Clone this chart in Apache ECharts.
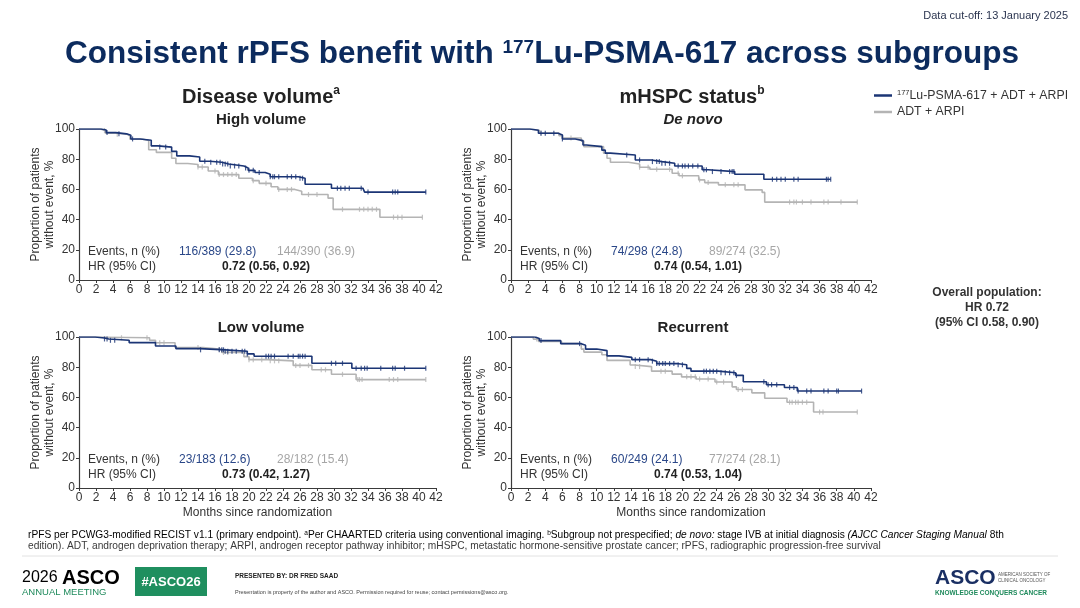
<!DOCTYPE html>
<html>
<head>
<meta charset="utf-8">
<script src="https://cdn.jsdelivr.net/npm/echarts@6/dist/echarts.min.js"></script>
<style>
  html, body { margin: 0; padding: 0; background: #fff; }
  #slide { width: 1080px; height: 608px; }
</style>
</head>
<body>
<div id="slide"></div>
<script>
// KM step points [month, % without event]
var hvLu = [[0,100],[2.6,99.3],[3.2,97.6],[4.3,96.8],[5.6,95.8],[6.1,93.4],[7.2,92.6],[8.5,88.8],[9.3,88],[10.9,85.2],[11.5,82.2],[13.0,81.5],[14.2,78.6],[15.4,78],[16.8,76.8],[17.6,75.5],[19.4,74.2],[19.9,72.6],[20.7,71.2],[21.9,70],[22.5,68.4],[25.8,67.4],[26.6,63.4],[29.7,60.8],[33.4,59.8],[33.6,58.2],[40.8,58.2]];
var hvCtl = [[0,100],[2.5,99],[3.1,97.2],[4.5,96.6],[5.6,95.4],[6.0,93.2],[7.5,92.4],[8.2,86.3],[9.1,84.5],[10.9,80.6],[11.4,77.2],[12.8,76.5],[14.0,74.8],[15.2,72.2],[16.4,69.8],[18.8,67.4],[20.4,65.8],[21.2,64],[22.6,61.8],[23.4,60],[25.4,58.8],[26.2,56.6],[29.3,54.2],[29.9,46.8],[35.4,41.6],[40.4,41.6]];
var dnLu = [[0,100],[2.2,99.2],[3.2,97.2],[5.5,96],[6.0,93.4],[7.5,92.3],[8.4,89.4],[8.8,88.3],[10.6,86],[11.0,84],[11.6,82.8],[14.5,79.5],[16.4,78.4],[17.6,77.3],[19.1,75.5],[22.3,73],[23.0,71.8],[26.1,70],[29.5,66.7],[37.3,66.7]];
var dnCtl = [[0,100],[2.2,99.2],[3.3,97.4],[5.6,95.6],[6.0,94],[8.2,92],[8.5,88.3],[10.8,84],[11.2,80.6],[11.6,78],[13.7,76.8],[15.0,74.7],[16.2,73.3],[18.8,70.7],[19.6,69],[21.9,66.3],[22.6,64.5],[24.2,63],[27.3,59.7],[29.3,58],[29.6,51.6],[40.4,51.6]];
var lvLu = [[0,100],[1.9,99.3],[3.0,98.7],[3.5,97.8],[5.9,96.3],[9.0,94],[11.4,92.3],[14.2,91.5],[17.2,90.6],[19.8,88.8],[20.6,87.3],[27.4,82.6],[32.1,79.3],[40.8,79.3]];
var lvCtl = [[0,100],[2.0,99.5],[8.3,97.8],[9.0,96.2],[11.3,93],[14.6,91.8],[16.8,89.8],[19.4,87],[20.0,85],[22.2,84.2],[25.2,81.2],[27.4,78.3],[29.7,75.3],[32.6,71.8],[40.8,71.8]];
var rcLu = [[0,100],[2.8,99],[3.3,97.6],[5.8,95.6],[8.2,94.6],[8.7,92],[10.0,91],[11.2,87.5],[12.6,86.5],[14.1,85],[16.3,84],[17.0,82.4],[19.3,81.6],[20.5,79.2],[21.0,77.4],[24.2,76.3],[26.2,74.6],[27.1,70.4],[29.8,68.4],[31.9,66.6],[33.4,64.2],[40.9,64.2]];
var rcCtl = [[0,100],[2.6,98.6],[3.2,97],[5.9,95.6],[8.2,92],[8.5,90],[10.6,88.2],[11.2,84.5],[13.9,81.5],[14.4,80.4],[16.4,77.4],[18.8,75.4],[19.9,73.6],[21.6,72.2],[23.8,70.2],[25.8,67],[26.3,65.2],[28.1,63],[29.6,59.4],[32.2,56.8],[35.3,50.3],[40.4,50.3]];

// censor tick times (months)
var hvLuCens = [3.3,4.7,6.3,9.5,10.2,14.8,15.5,16.2,16.6,16.9,17.2,17.5,17.8,18.3,18.8,19.6,20,20.5,21.2,22.5,22.8,23,23.5,24.5,25,25.5,26,26.3,30.4,30.8,31.3,31.8,33.2,34,36.9,37.2,37.5,40.8];
var hvCtlCens = [3,4.5,14,14.5,16,16.5,17,17.5,18,18.5,20.5,22,23.5,24.5,25,27,28,31,33,33.5,34,34.5,35,37,37.5,38,40.4];
var dnLuCens = [3.5,4,5,6,13.5,15,16.5,17,17.3,17.6,18,18.5,19.5,20,20.3,20.7,21.2,21.8,22.5,22.8,23.5,24.5,25.5,25.8,26,30.5,31,31.5,32,33,33.5,36.8,37,37.3];
var dnCtlCens = [3.5,7,15,16,17,18.5,19.5,20,22,23,25,26,26.5,32.5,33,33.3,34,35,36.5,37,38.5,40.4];
var lvLuCens = [3,3.3,3.7,4.2,14.3,16.5,16.8,17,17.2,17.5,18,18.5,19.2,19.5,19.8,22,22.3,22.6,23,24.6,25.2,25.8,26,26.3,26.6,29.7,30.2,31,32.6,33.2,33.6,33.9,35.5,36.9,37.2,38.3,40.8];
var lvCtlCens = [5,8,9,9.5,10,14,16.5,17,17.5,20,20.5,21.5,22.5,23,23.5,25.5,26,27,28.5,29,31,32.8,33,33.3,36.5,37,37.5,40.8];
var rcLuCens = [3.5,8,14.5,15,16,16.5,17,17.3,17.7,18,18.5,19,19.5,20,22.5,22.8,23.2,23.6,24,24.5,25,25.5,26,26.3,29.5,30,30.4,31,32.5,33,33.5,34.5,35,36.5,37,38,38.2,40.9];
var rcCtlCens = [3,14.5,15,17.5,18,20.5,21,21.5,22,23,24,24.8,26.5,27,32.5,32.8,33.2,33.5,34,34.5,36,36.4,40.4];

// events / HR text per panel
var luEvents = ['116/389 (29.8)', '74/298 (24.8)', '23/183 (12.6)', '60/249 (24.1)'];
var ctlEvents = ['144/390 (36.9)', '89/274 (32.5)', '28/182 (15.4)', '77/274 (28.1)'];
var hrText = ['0.72 (0.56, 0.92)', '0.74 (0.54, 1.01)', '0.73 (0.42, 1.27)', '0.74 (0.53, 1.04)'];
var subTitles = ['High volume', 'De novo', 'Low volume', 'Recurrent'];

var LU_NAME = '177Lu-PSMA-617 + ADT + ARPI';
var CTL_NAME = 'ADT + ARPI';
var BLUE = '#1b3575';
var GRAY = '#b4b4b4';
var FONT = '"Liberation Sans", Arial, sans-serif';

var slide = echarts.init(document.getElementById('slide'));

// grid boxes (pixel)
var boxes = [
    { left: 79, top: 129, width: 357, height: 151 },
    { left: 511, top: 129, width: 360, height: 151 },
    { left: 79, top: 337, width: 357, height: 151 },
    { left: 511, top: 337, width: 360, height: 151 }
];
var curves = [[hvLu, hvCtl, hvLuCens, hvCtlCens], [dnLu, dnCtl, dnLuCens, dnCtlCens],
              [lvLu, lvCtl, lvLuCens, lvCtlCens], [rcLu, rcCtl, rcLuCens, rcCtlCens]];

// value of a step curve at time t
function survAt(curve, t) {
    var s = curve[0][1];
    for (var i = 0; i < curve.length; i++) {
        if (curve[i][0] <= t) s = curve[i][1];
    }
    return s;
}

var grids = [], xAxes = [], yAxes = [], series = [], graphics = [];
var axisColor = '#3a3a3a';

boxes.forEach(function (b, i) {
    grids.push({ left: b.left, top: b.top, width: b.width, height: b.height, containLabel: false });
    xAxes.push({
        type: 'value', gridIndex: i, min: 0, max: 42, interval: 2,
        axisLine: { show: true, lineStyle: { color: axisColor, width: 1.2 } },
        axisTick: { show: true, length: 3, lineStyle: { color: axisColor } },
        axisLabel: { color: '#333', fontSize: 12, fontFamily: FONT, margin: 4 },
        splitLine: { show: false },
        name: i >= 2 ? 'Months since randomization' : '',
        nameLocation: 'middle', nameGap: 19, nameMoveOverlap: false,
        nameTextStyle: { color: '#333', fontSize: 12, fontFamily: FONT }
    });
    yAxes.push({
        type: 'value', gridIndex: i, min: 0, max: 100, interval: 20,
        axisLine: { show: true, lineStyle: { color: axisColor, width: 1.2 } },
        axisTick: { show: true, length: 3, lineStyle: { color: axisColor } },
        axisLabel: { color: '#333', fontSize: 12, fontFamily: FONT, margin: 4 },
        splitLine: { show: false },
        name: 'Proportion of patients\nwithout event, %',
        nameLocation: 'middle', nameRotate: 90, nameGap: 22, nameMoveOverlap: false,
        nameTextStyle: { color: '#333', fontSize: 12, fontFamily: FONT, lineHeight: 14 }
    });

    var c = curves[i];
    series.push({
        name: CTL_NAME, type: 'line', step: 'end', xAxisIndex: i, yAxisIndex: i,
        data: c[1], showSymbol: false, lineStyle: { color: GRAY, width: 1.6 },
        itemStyle: { color: GRAY }, z: 2, silent: true
    });
    series.push({
        name: LU_NAME, type: 'line', step: 'end', xAxisIndex: i, yAxisIndex: i,
        data: c[0], showSymbol: false, lineStyle: { color: BLUE, width: 1.6 },
        itemStyle: { color: BLUE }, z: 4, silent: true
    });
    series.push({
        type: 'scatter', xAxisIndex: i, yAxisIndex: i, symbol: 'rect', symbolSize: [1.2, 5],
        data: c[3].map(function (t) { return [t, survAt(c[1], t)]; }),
        itemStyle: { color: GRAY }, z: 3, silent: true
    });
    series.push({
        type: 'scatter', xAxisIndex: i, yAxisIndex: i, symbol: 'rect', symbolSize: [1.2, 5],
        data: c[2].map(function (t) { return [t, survAt(c[0], t)]; }),
        itemStyle: { color: BLUE }, z: 5, silent: true
    });

    // panel texts
    var evY = b.top + 123, hrY = b.top + 138;
    var txt = function (x, y, s, fill, weight) {
        graphics.push({ type: 'text', x: x, y: y, style: {
            text: s, fill: fill, font: (weight || 'normal') + ' 12px ' + FONT,
            textAlign: 'left', textVerticalAlign: 'middle' } });
    };
    txt(b.left + 9, evY, 'Events, n (%)', '#333');
    txt(b.left + 9, hrY, 'HR (95% CI)', '#333');
    txt(b.left + 100, evY, luEvents[i], '#2a4788');
    txt(b.left + 198, evY, ctlEvents[i], '#a6a6a6');
    txt(b.left + 143, hrY, hrText[i], '#222', 'bold');

    graphics.push({ type: 'text', x: b.left + 182, y: b.top - 9, style: {
        text: subTitles[i], fill: '#222',
        font: (i === 1 ? 'italic ' : '') + 'bold 15px ' + FONT,
        textAlign: 'center', textVerticalAlign: 'middle' } });
});

// section headers with superscripts
function supTitle(x, y, main, sup) {
    graphics.push({ type: 'text', x: x, y: y, style: {
        text: '{m|' + main + '}{s|' + sup + '}', textAlign: 'center', textVerticalAlign: 'middle',
        rich: {
            m: { fontSize: 20, fontWeight: 'bold', fontFamily: FONT, fill: '#222', color: '#222', lineHeight: 24 },
            s: { fontSize: 12, fontWeight: 'bold', fontFamily: FONT, fill: '#222', color: '#222', verticalAlign: 'top', lineHeight: 24, padding: [0, 0, 8, 0] }
        } } });
}
supTitle(261, 97, 'Disease volume', 'a');
supTitle(692, 97, 'mHSPC status', 'b');

// slide title
graphics.push({ type: 'text', x: 542, y: 54, style: {
    text: '{m|Consistent rPFS benefit with }{s|177}{m|Lu-PSMA-617 across subgroups}',
    textAlign: 'center', textVerticalAlign: 'middle',
    rich: {
        m: { fontSize: 31.5, fontWeight: 'bold', fontFamily: FONT, color: '#0c2b5e', fill: '#0c2b5e', lineHeight: 38 },
        s: { fontSize: 19, fontWeight: 'bold', fontFamily: FONT, color: '#0c2b5e', fill: '#0c2b5e', lineHeight: 38, padding: [0, 0, 13, 0] }
    } } });
graphics.push({ type: 'text', x: 1068, y: 16, style: {
    text: 'Data cut-off: 13 January 2025', fill: '#2b3550', font: '11px ' + FONT,
    textAlign: 'right', textVerticalAlign: 'middle' } });

// overall population box
graphics.push({ type: 'text', x: 987, y: 308, style: {
    text: 'Overall population:\nHR 0.72\n(95% CI 0.58, 0.90)', fill: '#333',
    font: 'bold 12px ' + FONT, lineHeight: 15, textAlign: 'center', textVerticalAlign: 'middle' } });

// footnotes
graphics.push({ type: 'text', x: 28, y: 535, style: {
    text: '{n|rPFS per PCWG3-modified RECIST v1.1 (primary endpoint). }{s|a}{n|Per CHAARTED criteria using conventional imaging. }{s|b}{n|Subgroup not prespecified; }{i|de novo:}{n| stage IVB at initial diagnosis }{i|(AJCC Cancer Staging Manual}{n| 8th}',
    textVerticalAlign: 'middle',
    rich: {
        n: { fontSize: 10.2, fontFamily: FONT, color: '#3a3a3a', lineHeight: 12 },
        i: { fontSize: 10.2, fontFamily: FONT, fontStyle: 'italic', color: '#3a3a3a', lineHeight: 12 },
        s: { fontSize: 6.5, fontFamily: FONT, color: '#3a3a3a', lineHeight: 12, padding: [0, 0, 4, 0] }
    } } });
graphics.push({ type: 'text', x: 28, y: 546, style: {
    text: 'edition). ADT, androgen deprivation therapy; ARPI, androgen receptor pathway inhibitor; mHSPC, metastatic hormone-sensitive prostate cancer; rPFS, radiographic progression-free survival',
    fill: '#3a3a3a', font: '10.2px ' + FONT, textVerticalAlign: 'middle' } });
graphics.push({ type: 'line', shape: { x1: 22, y1: 556, x2: 1058, y2: 556 },
    style: { stroke: '#e2e2e2', lineWidth: 1 } });

// footer
graphics.push({ type: 'text', x: 22, y: 578, style: {
    text: '{y|2026 }{a|ASCO}', textVerticalAlign: 'middle',
    rich: {
        y: { fontSize: 16, fontFamily: FONT, color: '#1a2f63' },
        a: { fontSize: 20, fontWeight: 'bold', fontFamily: FONT, color: '#1a2f63' }
    } } });
graphics.push({ type: 'text', x: 22, y: 592, style: {
    text: 'ANNUAL MEETING', fill: '#1f8a5c', font: '9.5px ' + FONT, textVerticalAlign: 'middle' } });
graphics.push({ type: 'rect', shape: { x: 135, y: 567, width: 72, height: 29 },
    style: { fill: '#1f8f5f' } });
graphics.push({ type: 'text', x: 171, y: 582, style: {
    text: '#ASCO26', fill: '#fff', font: 'bold 13px ' + FONT, textAlign: 'center', textVerticalAlign: 'middle' } });
graphics.push({ type: 'text', x: 235, y: 576, style: {
    text: 'PRESENTED BY: DR FRED SAAD', fill: '#222', font: 'bold 6.5px ' + FONT, textVerticalAlign: 'middle' } });
graphics.push({ type: 'text', x: 235, y: 592, style: {
    text: 'Presentation is property of the author and ASCO. Permission required for reuse; contact permissions@asco.org.',
    fill: '#444', font: '5.5px ' + FONT, textVerticalAlign: 'middle' } });
graphics.push({ type: 'text', x: 935, y: 578, style: {
    text: 'ASCO', fill: '#1a2f63', font: 'bold 21px ' + FONT, textVerticalAlign: 'middle' } });
graphics.push({ type: 'text', x: 998, y: 578, style: {
    text: 'AMERICAN SOCIETY OF\nCLINICAL ONCOLOGY', fill: '#555', font: '4.5px ' + FONT, lineHeight: 6, textVerticalAlign: 'middle' } });
graphics.push({ type: 'text', x: 935, y: 593, style: {
    text: 'KNOWLEDGE CONQUERS CANCER', fill: '#1f8a5c', font: 'bold 6.5px ' + FONT, textVerticalAlign: 'middle' } });

var slideOption = {
    backgroundColor: '#fff',
    animation: false,
    legend: {
        data: [LU_NAME, CTL_NAME],
        orient: 'vertical', left: 869, top: 84,
        icon: 'rect', itemWidth: 18, itemHeight: 2.5, itemGap: 4,
        selectedMode: false,
        formatter: function (n) {
            return n === LU_NAME ? '{s|177}{t|Lu-PSMA-617 + ADT + ARPI}' : '{t|' + n + '}';
        },
        textStyle: {
            color: '#333', fontFamily: FONT,
            rich: {
                t: { fontSize: 12.3, fontFamily: FONT, color: '#333', lineHeight: 15 },
                s: { fontSize: 7.5, fontFamily: FONT, color: '#333', lineHeight: 15, padding: [0, 0, 5, 0] }
            }
        }
    },
    grid: grids,
    xAxis: xAxes,
    yAxis: yAxes,
    series: series,
    graphic: graphics
};

slide.setOption(slideOption);
</script>
</body>
</html>
